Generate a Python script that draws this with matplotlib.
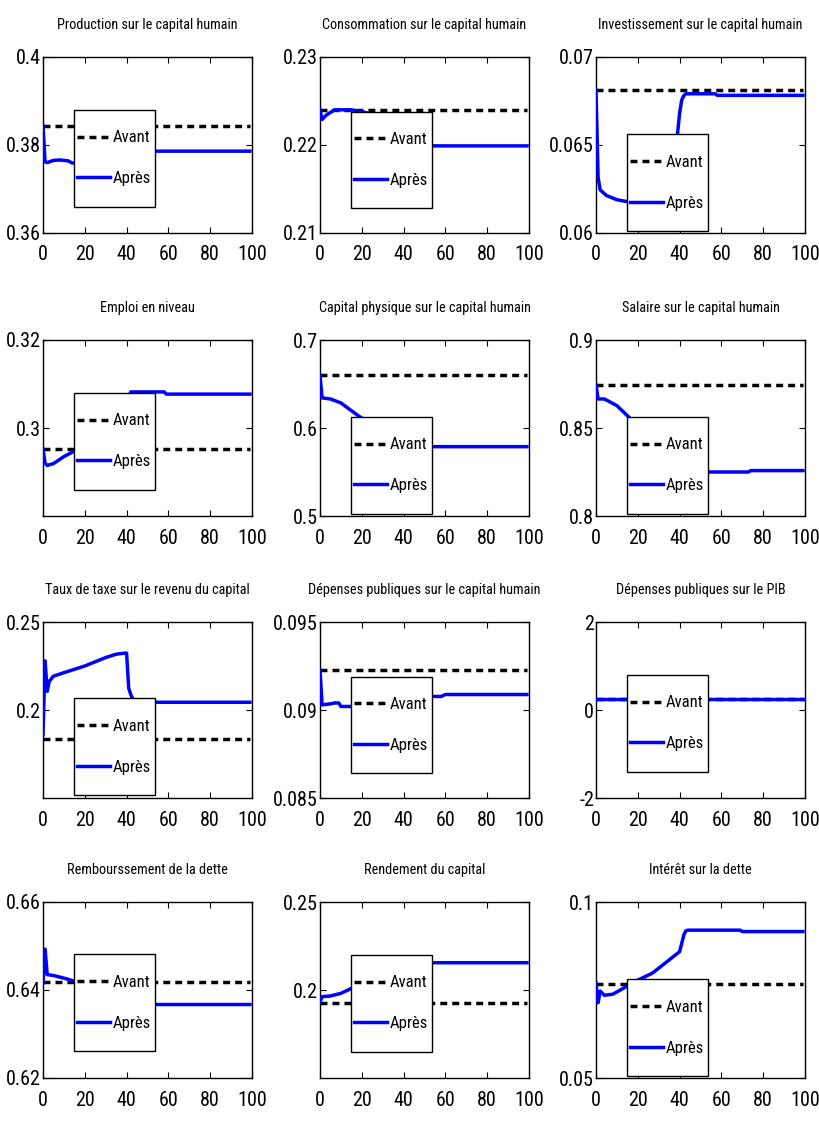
import matplotlib
matplotlib.use('Agg')
import matplotlib.pyplot as plt
from matplotlib import font_manager as fm
from matplotlib.patches import Rectangle
import numpy as np

# Periods of the simulation
periods = np.arange(100)

titles = [
    'Production sur le capital humain',
    'Consommation sur le capital humain',
    'Investissement sur le capital humain',
    'Emploi en niveau',
    'Capital physique sur le capital humain',
    'Salaire sur le capital humain',
    'Taux de taxe sur le revenu du capital',
    'Dépenses publiques sur le capital humain',
    'Dépenses publiques sur le PIB',
    'Rembourssement de la dette',
    'Rendement du capital',
    'Intérêt sur la dette',
]

# Steady state before the reform ("Avant")
avant = [0.3844, 0.2240, 0.0681, 0.29515, 0.6598, 0.8746,
         0.1837, 0.09227, 0.26, 0.64184, 0.19245, 0.07683]

# Transition after the reform ("Après"), read as (period, value) vertices
apres_t = [
    [0, 1, 2, 5, 8, 12, 14, 16, 20, 30, 38, 41, 44, 99],
    [0, 1, 3, 7, 15, 20, 30, 38, 41, 44, 99],
    [0, 1, 2, 5, 10, 14, 20, 30, 36, 38, 39, 40, 41, 42, 43, 57, 58, 99],
    [0, 1, 2, 5, 10, 14, 20, 30, 38, 40, 42, 58, 59, 99],
    [0, 1, 5, 10, 15, 19, 25, 32, 38, 42, 46, 99],
    [0, 1, 4, 10, 15, 20, 30, 38, 42, 46, 73, 74, 99],
    [0, 1, 2, 3, 5, 10, 20, 30, 35, 39, 40, 41, 42, 43, 45, 47, 99],
    [0, 1, 5, 7, 9, 10, 15, 25, 38, 42, 53, 58, 60, 99],
    [0, 99],
    [0, 1, 2, 5, 10, 15, 20, 30, 38, 42, 46, 99],
    [0, 1, 5, 10, 15, 20, 30, 38, 42, 46, 99],
    [0, 1, 2, 4, 8, 15, 20, 27, 33, 40, 41, 42, 43, 44, 69, 70, 99],
]
apres_y = [
    [0.3844, 0.3762, 0.3760, 0.3765, 0.3766, 0.3764, 0.3759, 0.3760, 0.3762,
     0.3768, 0.3772, 0.3784, 0.3786, 0.3786],
    [0.2240, 0.2229, 0.2234, 0.2240, 0.2240, 0.2238, 0.2232, 0.2226, 0.2205,
     0.2199, 0.2199],
    [0.0681, 0.06317, 0.06245, 0.06213, 0.06189, 0.0618, 0.06175, 0.0617,
     0.0620, 0.0638, 0.06564, 0.0668, 0.06755, 0.0678, 0.06791, 0.06791,
     0.06782, 0.06782],
    [0.2952, 0.2920, 0.2915, 0.2919, 0.2935, 0.2945, 0.2960, 0.2990, 0.3020,
     0.3060, 0.3082, 0.3082, 0.3077, 0.3077],
    [0.6598, 0.6342, 0.6330, 0.6285, 0.6197, 0.6128, 0.6040, 0.5950, 0.5880,
     0.5800, 0.5788, 0.5788],
    [0.8746, 0.8665, 0.8665, 0.8627, 0.8570, 0.8510, 0.8420, 0.8360, 0.8270,
     0.8250, 0.8250, 0.8258, 0.8258],
    [0.1860, 0.2279, 0.2106, 0.2163, 0.2192, 0.2212, 0.2250, 0.2298, 0.2317,
     0.2323, 0.2323, 0.2125, 0.2087, 0.2063, 0.2052, 0.2044, 0.2044],
    [0.09227, 0.09029, 0.09035, 0.0904, 0.0904, 0.0902, 0.0902, 0.0903,
     0.0905, 0.0907, 0.09077, 0.09077, 0.09088, 0.09088],
    [0.26, 0.26],
    [0.6416, 0.6493, 0.6435, 0.6433, 0.6427, 0.6420, 0.6415, 0.6405, 0.6398,
     0.6372, 0.6367, 0.6367],
    [0.1934, 0.1962, 0.1966, 0.1981, 0.2009, 0.2025, 0.2055, 0.2080, 0.2145,
     0.2155, 0.2155],
    [0.0770, 0.0714, 0.0747, 0.0735, 0.0738, 0.0761, 0.0778, 0.0798, 0.0826,
     0.0859, 0.0882, 0.0906, 0.0918, 0.0920, 0.0920, 0.0916, 0.0916],
]

ylims = [(0.36, 0.4), (0.21, 0.23), (0.06, 0.07), (0.28, 0.32),
         (0.5, 0.7), (0.8, 0.9), (0.15, 0.25), (0.085, 0.095),
         (-2, 2), (0.62, 0.66), (0.15, 0.25), (0.05, 0.1)]
yticks = [[0.36, 0.38, 0.4], [0.21, 0.22, 0.23], [0.06, 0.065, 0.07],
          [0.3, 0.32], [0.5, 0.6, 0.7], [0.8, 0.85, 0.9], [0.2, 0.25],
          [0.085, 0.09, 0.095], [-2, 0, 2], [0.62, 0.64, 0.66],
          [0.2, 0.25], [0.05, 0.1]]
xticks = [0, 20, 40, 60, 80, 100]

# legend box: low (near bottom) or middle of the axes
leg_bottom = [0.15, 0.14, 0.012, 0.15, 0.014, 0.014,
              0.018, 0.14, 0.15, 0.154, 0.15, 0.012]


def find_narrow_font():
    # the original uses a tall, condensed face: look for a narrow sans font
    prefs = ['Liberation Sans Narrow', 'Arial Narrow', 'Roboto Condensed',
             'Open Sans Condensed', 'Noto Sans', 'DejaVu Sans']
    found = []
    for f in fm.fontManager.ttflist:
        st = f.stretch
        narrow = ('Narrow' in f.name or 'Condensed' in f.name or
                  st in ('condensed', 'semi-condensed', 'extra-condensed',
                         'ultra-condensed') or
                  (isinstance(st, int) and st < 500))
        w = f.weight if isinstance(f.weight, int) else fm.weight_dict.get(f.weight, 400)
        if narrow and f.style == 'normal' and 350 <= w <= 450:
            found.append(f)
    for p in prefs:
        for f in found:
            if f.name.startswith(p):
                return f.fname, True
    if found:
        return found[0].fname, True
    return fm.findfont('DejaVu Sans'), False


font_file, is_narrow = find_narrow_font()
if is_narrow:
    size_title, size_tick, size_leg = 10.3, 14.5, 12
else:
    size_title, size_tick, size_leg = 9, 11, 10
fp_title = fm.FontProperties(fname=font_file, size=size_title)
fp_tick = fm.FontProperties(fname=font_file, size=size_tick)
fp_leg = fm.FontProperties(fname=font_file, size=size_leg)

W, H = 819, 1123
fig = plt.figure(figsize=(W / 100, H / 100), dpi=100)
col_left = [43, 320, 596]
row_top = [57, 340, 622, 902]
ax_w, ax_h = 209, 176

for i in range(12):
    r, c = divmod(i, 3)
    ax = fig.add_axes([col_left[c] / W, 1 - (row_top[r] + ax_h) / H,
                       ax_w / W, ax_h / H])
    l1, = ax.plot(periods, np.full(len(periods), avant[i]), color='black',
                  lw=2.5, ls=(0, (2.0, 1.45)), label='Avant', zorder=2)
    l2, = ax.plot(apres_t[i], apres_y[i], color=(0, 0, 1), lw=2.5,
                  label='Après', zorder=3)
    ax.set_xlim(0, 100)
    ax.set_ylim(*ylims[i])
    ax.set_xticks(xticks)
    ax.set_xticklabels([str(v) for v in xticks], fontproperties=fp_tick)
    ax.set_yticks(yticks[i])
    ax.set_yticklabels(['%g' % v for v in yticks[i]], fontproperties=fp_tick)
    ax.tick_params(direction='in', top=True, right=True, length=4,
                   width=0.8)
    ax.tick_params(axis='x', pad=9)
    ax.tick_params(axis='y', pad=1.5)
    for s in ax.spines.values():
        s.set_linewidth(1.0)
    ax.set_title(titles[i], fontproperties=fp_title, pad=20)

    # legend frame drawn as a white box, legend entries centred in it
    box = (0.147, leg_bottom[i], 0.387, 0.548)
    ax.add_patch(Rectangle(box[:2], box[2], box[3], transform=ax.transAxes,
                           facecolor='white', edgecolor='black', lw=1.0,
                           zorder=5))
    leg = ax.legend(handles=[l1, l2], loc='center', bbox_to_anchor=box,
                    bbox_transform=ax.transAxes, frameon=False, prop=fp_leg,
                    borderpad=0, borderaxespad=0, handlelength=2.0,
                    handletextpad=0.15, labelspacing=1.55)
    leg.set_zorder(6)

fig.savefig('out.png', dpi=100)
